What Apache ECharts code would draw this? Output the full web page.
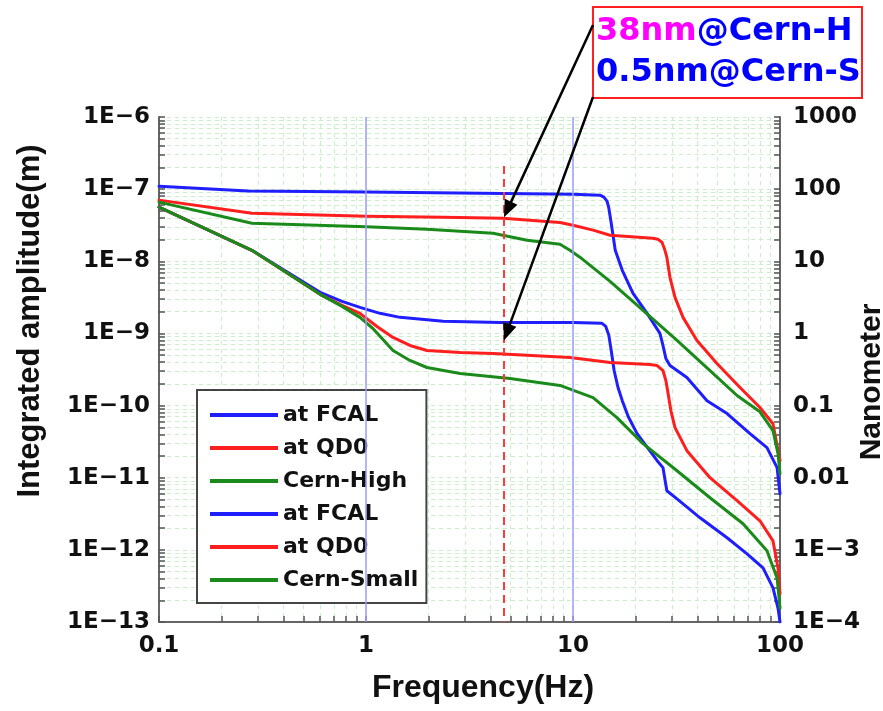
<!DOCTYPE html>
<html><head><meta charset="utf-8">
<script src="https://cdn.jsdelivr.net/npm/echarts@6/dist/echarts.min.js"></script>
<style>html,body{margin:0;padding:0;background:#fff}#c{width:883px;height:711px}</style>
</head><body><div id="c"></div>
<script>
// ---------- data ----------
const legendNames = ['at FCAL', 'at QD0', 'Cern-High', 'at FCAL', 'at QD0', 'Cern-Small'];

const freqBlueHigh = [0.1, 0.269, 1, 10, 13.5, 14.1, 14.6, 14.9, 15.3, 16.0, 17.3, 19.5, 22.8, 26.3, 27.2, 28.1, 29.4, 35.5, 44.4, 55.5, 71.6, 86.5, 96.8, 100];
const ampBlueHigh  = [1.10e-7, 9.4e-8, 9.1e-8, 8.5e-8, 8.25e-8, 7.74e-8, 6.81e-8, 5.45e-8, 3.37e-8, 1.42e-8, 7.5e-9, 3.6e-9, 1.9e-9, 1.0e-9, 6.81e-10, 4.5e-10, 3.59e-10, 2.45e-10, 1.17e-10, 7.74e-11, 4.08e-11, 2.61e-11, 1.38e-11, 6e-12];

const freqRedHigh = [0.1, 0.281, 1, 2.36, 4.59, 7.17, 8.65, 10, 12.5, 15.1, 24.3, 25.7, 26.9, 27.6, 28.4, 29.4, 31.1, 34.0, 39.7, 49.6, 64.1, 80, 92.5, 97.8, 100];
const ampRedHigh  = [7.04e-8, 4.64e-8, 4.2e-8, 4.08e-8, 3.96e-8, 3.6e-8, 3.45e-8, 3.15e-8, 2.7e-8, 2.3e-8, 2.09e-8, 2.02e-8, 1.84e-8, 1.52e-8, 1.14e-8, 6.0e-9, 3.16e-9, 1.67e-9, 8.0e-10, 3.83e-10, 1.78e-10, 9.4e-11, 5.6e-11, 2.4e-11, 1.72e-11];

const freqGreenHigh = [0.1, 0.281, 1, 1.97, 4.11, 6.0, 8.65, 9.67, 10.8, 15.1, 21.8, 31.8, 45.9, 62, 80, 92.5, 97.8, 100];
const ampGreenHigh  = [6.6e-8, 3.37e-8, 3.0e-8, 2.78e-8, 2.45e-8, 1.96e-8, 1.72e-8, 1.42e-8, 1.14e-8, 5.27e-9, 2.09e-9, 8.0e-10, 3.06e-10, 1.38e-10, 8.2e-11, 4.5e-11, 2.15e-11, 1.14e-11];

const freqBlueSmall = [0.1, 0.281, 0.6, 0.766, 0.935, 1.168, 1.46, 2.36, 4.44, 10, 13.8, 14.4, 14.9, 15.3, 15.8, 16.5, 17.3, 18.5, 20.4, 25.5, 27.2, 28.4, 31.8, 41.1, 55.5, 69.3, 82.8, 92.5, 97.8, 100];
const ampBlueSmall  = [5.62e-8, 1.42e-8, 3.71e-9, 2.78e-9, 2.3e-9, 1.9e-9, 1.67e-9, 1.47e-9, 1.42e-9, 1.42e-9, 1.38e-9, 1.25e-9, 9.4e-10, 5.8e-10, 3.06e-10, 1.78e-10, 1.17e-10, 7.0e-11, 4.08e-11, 1.72e-11, 1.38e-11, 6.6e-12, 5.1e-12, 2.78e-12, 1.47e-12, 8.8e-13, 5.62e-13, 2.97e-13, 1.56e-13, 1e-13];

const freqRedSmall = [0.1, 0.281, 0.6, 0.766, 0.935, 1.13, 1.35, 1.63, 1.97, 2.85, 4.11, 9.67, 15.1, 23.5, 25.5, 27.2, 28.1, 28.8, 29.7, 31.1, 35.5, 45.9, 62, 80, 92.5, 97.8, 100];
const ampRedSmall  = [5.62e-8, 1.42e-8, 3.48e-9, 2.45e-9, 1.9e-9, 1.25e-9, 8.8e-10, 6.81e-10, 5.8e-10, 5.45e-10, 5.27e-10, 4.64e-10, 3.96e-10, 3.71e-10, 3.59e-10, 3.06e-10, 2.22e-10, 1.47e-10, 8.53e-11, 4.95e-11, 2.37e-11, 1.0e-11, 4.8e-12, 2.53e-12, 1.33e-12, 5.62e-13, 2.45e-13];

const freqGreenSmall = [0.1, 0.281, 0.6, 0.766, 0.935, 1.08, 1.35, 1.63, 1.97, 2.85, 4.96, 8.65, 12.5, 16.3, 21.8, 31.8, 45.9, 66.3, 86.5, 96.8, 100];
const ampGreenSmall  = [5.62e-8, 1.42e-8, 3.48e-9, 2.37e-9, 1.67e-9, 1.17e-9, 5.8e-10, 4.22e-10, 3.37e-10, 2.78e-10, 2.37e-10, 1.9e-10, 1.29e-10, 6.81e-11, 2.97e-11, 1.25e-11, 5.27e-12, 2.3e-12, 9.7e-13, 4.08e-13, 1.56e-13];

const xTickLabels = [0.1, 1, 10, 100];
const yTickLabels = [1e-13, 1e-12, 1e-11, 1e-10, 1e-9, 1e-8, 1e-7, 1e-6];
const rightTickLabels = ['1E\u22124', '1E\u22123', '0.01', '0.1', '1', '10', '100', '1000'];
const blueGridX = [1, 10];
const blueGridY = [1e-12];
const markerFreq = 4.64;
const markerTop = 2.1e-7;
const arrowTips = [4.08e-8, 8.0e-10];
const annotationLine1 = ['38nm', '@Cern-H'];
const annotationLine2 = '0.5nm@Cern-S';

// ---------- helpers ----------
const xDecades = [0.1, 1, 10];
const yDecades = [1e-13, 1e-12, 1e-11, 1e-10, 1e-9, 1e-8, 1e-7];
const xMinor = [];
xDecades.forEach(d => { for (let k = 1; k <= 9; k++) xMinor.push(+(d * k).toPrecision(3)); });
xMinor.push(100);
const yMinor = [];
yDecades.forEach(d => { for (let k = 1; k <= 9; k++) yMinor.push(+(d * k).toPrecision(3)); });
yMinor.push(1e-6);
const rightMinor = yMinor.map(v => +(v * 1e9).toPrecision(3));

const pairs = (f, a) => f.map((x, i) => [x, a[i]]);
const BLUE = '#1e1eff', RED = '#ff1e1e', GREEN = '#1a8a1a';
const defs = [
  [legendNames[0], freqBlueHigh, ampBlueHigh, BLUE],
  [legendNames[1], freqRedHigh, ampRedHigh, RED],
  [legendNames[2], freqGreenHigh, ampGreenHigh, GREEN],
  [legendNames[3] + ' ', freqBlueSmall, ampBlueSmall, BLUE],
  [legendNames[4] + ' ', freqRedSmall, ampRedSmall, RED],
  [legendNames[5], freqGreenSmall, ampGreenSmall, GREEN]
];

const tickFont = { fontFamily: 'DejaVu Sans', fontWeight: 'bold', fontSize: 23, color: '#111' };
const expOf = v => Math.round(Math.log10(v));

const chart = echarts.init(document.getElementById('c'), null, { renderer: 'canvas' });

const series = [{
  type: 'line', name: '__grid', data: [], silent: true, z: 1,
  markLine: {
    silent: true, symbol: ['none', 'none'], label: { show: false },
    lineStyle: { color: '#9b9bff', width: 1.5, type: 'solid' },
    data: blueGridX.map(v => ({ xAxis: v })).concat(blueGridY.map(v => ({ yAxis: v })))
  }
}];
defs.forEach(d => series.push({
  type: 'line', name: d[0], data: pairs(d[1], d[2]),
  showSymbol: false, symbol: 'none', smooth: false,
  lineStyle: { color: d[3], width: 3, join: 'round', cap: 'round' }, itemStyle: { color: d[3] }, z: 3
}));
series.push({
  type: 'line', name: '__marker', data: [], silent: true, z: 4,
  markLine: {
    silent: true, symbol: ['none', 'none'], label: { show: false },
    lineStyle: { color: '#ff3a3a', width: 2, type: [8, 5] },
    data: [[{ coord: [markerFreq, markerTop] }, { coord: [markerFreq, yTickLabels[0]] }]]
  }
});

const option = {
  animation: false,
  backgroundColor: '#fff',
  grid: { left: 159, right: 103, top: 117, bottom: 89, containLabel: false, outerBoundsMode: 'none' },
  xAxis: {
    type: 'log', logBase: 10, min: 0.1, max: 100,
    axisLine: { show: true, onZero: false, lineStyle: { color: '#666', width: 2 } },
    axisTick: { show: true, inside: true, length: 6, customValues: xMinor, lineStyle: { color: '#555', width: 1.5 } },
    axisLabel: { ...tickFont, margin: 13, customValues: xTickLabels, formatter: v => String(v) },
    splitLine: { show: true, lineStyle: { color: '#c9efc9', width: 1, type: [4, 4] } }
  },
  yAxis: [{
    type: 'log', logBase: 10, min: 1e-13, max: 1e-6,
    axisLine: { show: true, onZero: false, lineStyle: { color: '#666', width: 2 } },
    axisTick: { show: true, inside: true, length: 6, customValues: yMinor, lineStyle: { color: '#555', width: 1.5 } },
    axisLabel: { ...tickFont, margin: 9, customValues: yTickLabels, formatter: v => '1E\u2212' + (-expOf(v)) },
    splitLine: { show: true, lineStyle: { color: '#c9efc9', width: 1, type: [4, 4] } }
  }, {
    type: 'log', logBase: 10, min: 1e-4, max: 1000, position: 'right',
    axisLine: { show: true, onZero: false, lineStyle: { color: '#666', width: 2 } },
    axisTick: { show: true, inside: true, length: 6, customValues: rightMinor, lineStyle: { color: '#555', width: 1.5 } },
    axisLabel: { ...tickFont, margin: 13, customValues: [1e-4, 1e-3, 0.01, 0.1, 1, 10, 100, 1000],
      formatter: v => rightTickLabels[expOf(v) + 4] },
    splitLine: { show: false }
  }],
  legend: {
    orient: 'vertical', left: 197, top: 390,
    data: defs.map(d => ({ name: d[0], icon: 'rect', itemStyle: { color: d[3] } })),
    formatter: n => n.trim(),
    backgroundColor: '#fff', borderColor: '#444', borderWidth: 2, borderRadius: 0,
    padding: [14, 8, 12, 13], itemGap: 11, itemWidth: 68, itemHeight: 4,
    textStyle: { fontFamily: 'DejaVu Sans', fontWeight: 'bold', fontSize: 22, color: '#111', lineHeight: 22 },
    selectedMode: false
  },
  series: series
};
chart.setOption(option);

// ---------- annotations ----------
const g = [
  { type: 'text', x: 30, y: 321, rotation: Math.PI / 2,
    style: { text: 'Integrated amplitude(m)', font: 'bold 31px "Liberation Sans", Arial, sans-serif', fill: '#111', align: 'center', verticalAlign: 'middle' } },
  { type: 'text', x: 872, y: 382, rotation: Math.PI / 2,
    style: { text: 'Nanometer', font: 'bold 30px "Liberation Sans", Arial, sans-serif', fill: '#111', align: 'center', verticalAlign: 'middle' } },
  { type: 'text', x: 483, y: 688,
    style: { text: 'Frequency(Hz)', font: 'bold 32px "Liberation Sans", Arial, sans-serif', fill: '#111', align: 'center', verticalAlign: 'middle' } },
  { type: 'rect', shape: { x: 593, y: 7, width: 269, height: 91 },
    style: { fill: '#fff', stroke: '#ff2020', lineWidth: 2 }, z: 10 },
  { type: 'text', x: 596, y: 32, z: 11,
    style: { text: '{m|' + annotationLine1[0] + '}{b|' + annotationLine1[1] + '}', verticalAlign: 'middle', align: 'left',
      rich: { m: { fill: '#ff00ff', font: 'bold 32px "DejaVu Sans"' }, b: { fill: '#0000ff', font: 'bold 32px "DejaVu Sans"' } } } },
  { type: 'text', x: 596, y: 73, z: 11,
    style: { text: annotationLine2, fill: '#0000ff', font: 'bold 32px "DejaVu Sans"', align: 'left', verticalAlign: 'middle' } }
];
const starts = [[593, 25], [593, 97]];
arrowTips.forEach((amp, i) => {
  const tip = chart.convertToPixel({ xAxisIndex: 0, yAxisIndex: 0 }, [markerFreq, amp]);
  const s = starts[i];
  const dx = tip[0] - s[0], dy = tip[1] - s[1];
  const L = Math.sqrt(dx * dx + dy * dy);
  const ux = dx / L, uy = dy / L, nx = -uy, ny = ux;
  const hl = 17, hw = 7;
  const bx = tip[0] - ux * hl, by = tip[1] - uy * hl;
  g.push({ type: 'line', z: 12, shape: { x1: s[0], y1: s[1], x2: bx + ux * 2, y2: by + uy * 2 },
    style: { stroke: '#000', lineWidth: 2.5 } });
  g.push({ type: 'polygon', z: 12, shape: { points: [tip, [bx + nx * hw, by + ny * hw], [bx - nx * hw, by - ny * hw]] },
    style: { fill: '#000' } });
});
chart.setOption({ graphic: g });
</script>
</body></html>
